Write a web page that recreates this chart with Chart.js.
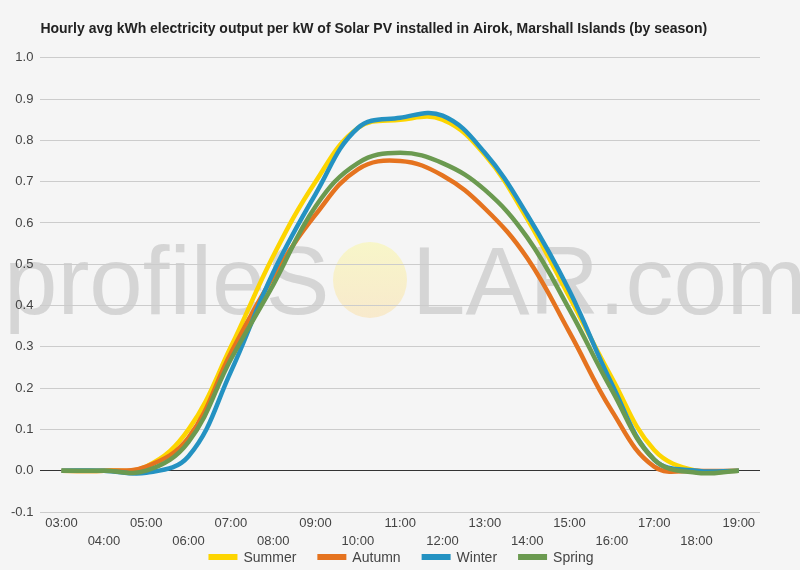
<!DOCTYPE html>
<html>
<head>
<meta charset="utf-8">
<script src="https://cdn.jsdelivr.net/npm/chart.js@4"></script>
<style>
  html, body { margin: 0; padding: 0; background: #f5f5f5; }
  #wrap { width: 800px; height: 570px; }
</style>
</head>
<body>
<div id="wrap"><canvas id="chart" width="800" height="570"></canvas></div>
<script>
// hours of the day (x axis)
const hours = ['03:00', '04:00', '05:00', '06:00', '07:00', '08:00', '09:00', '10:00', '11:00',
  '12:00', '13:00', '14:00', '15:00', '16:00', '17:00', '18:00', '19:00'];

// avg kWh per kW
const summer = [0, 0, 0.01, 0.10, 0.30, 0.52, 0.70, 0.83, 0.85, 0.85, 0.765, 0.61, 0.42, 0.225, 0.05, 0.0, 0];
const autumn = [0, 0, 0.01, 0.08, 0.285, 0.47, 0.62, 0.73, 0.75, 0.715, 0.635, 0.515, 0.335, 0.145, 0.01, 0, 0];
const winter = [0, 0, -0.005, 0.035, 0.24, 0.48, 0.67, 0.83, 0.855, 0.86, 0.77, 0.62, 0.435, 0.21, 0.027, 0, 0];
const spring = [0, 0, 0.0, 0.07, 0.27, 0.45, 0.64, 0.745, 0.77, 0.745, 0.68, 0.565, 0.39, 0.195, 0.027, -0.005, 0];

const titleText = 'Hourly avg kWh electricity output per kW of Solar PV installed in Airok, Marshall Islands (by season)';
const fontFamily = '"Liberation Sans", Arial, sans-serif';

// background watermark "profileSOLAR.com" with a sun for the O
const watermark = {
  id: 'watermark',
  beforeDraw(chart) {
    const ctx = chart.ctx;
    ctx.save();
    ctx.fillStyle = '#f5f5f5';
    ctx.fillRect(0, 0, chart.width, chart.height);
    ctx.font = '96px ' + fontFamily;
    ctx.textBaseline = 'alphabetic';
    ctx.fillStyle = 'rgba(170,170,170,0.42)';
    ctx.fillText('profileS', 4, 314);
    ctx.fillText('LAR.com', 412, 314);
    const g = ctx.createLinearGradient(0, 243, 0, 318);
    g.addColorStop(0, 'rgba(248,246,196,0.9)');
    g.addColorStop(1, 'rgba(248,232,200,0.9)');
    ctx.fillStyle = g;
    ctx.beginPath();
    ctx.ellipse(370, 280, 37, 38, 0, 0, Math.PI * 2);
    ctx.fill();
    ctx.restore();
  }
};

// legend drawn under the axis, centred on the page
const bottomLegend = {
  id: 'bottomLegend',
  afterDraw(chart) {
    const ctx = chart.ctx;
    const sets = chart.data.datasets;
    ctx.save();
    ctx.font = '14px ' + fontFamily;
    const boxW = 29, boxH = 6, gapText = 6, gapItem = 21;
    const widths = sets.map(d => boxW + gapText + ctx.measureText(d.label).width);
    const total = widths.reduce((a, b) => a + b, 0) + gapItem * (sets.length - 1);
    let x = 401 - total / 2;
    const y = 557;
    ctx.textBaseline = 'middle';
    sets.forEach((d, i) => {
      ctx.fillStyle = d.borderColor;
      ctx.fillRect(x, y - boxH / 2, boxW, boxH);
      ctx.fillStyle = '#444';
      ctx.fillText(d.label, x + boxW + gapText, y + 1);
      x += widths[i] + gapItem;
    });
    ctx.restore();
  }
};

const tickFont = { family: fontFamily, size: 13, lineHeight: '18px' };

new Chart(document.getElementById('chart'), {
  type: 'line',
  data: {
    labels: hours,
    datasets: [
      { label: 'Summer', data: summer, borderColor: '#fdd500', backgroundColor: '#fdd500', order: 4 },
      { label: 'Autumn', data: autumn, borderColor: '#e5731f', backgroundColor: '#e5731f', order: 3 },
      { label: 'Winter', data: winter, borderColor: '#2492c2', backgroundColor: '#2492c2', order: 2 },
      { label: 'Spring', data: spring, borderColor: '#6b9a50', backgroundColor: '#6b9a50', order: 1 },
    ],
  },
  options: {
    responsive: false,
    animation: false,
    layout: { padding: { left: 4, right: 40, top: 5, bottom: 18 } },
    elements: {
      line: { borderWidth: 4.5, tension: 0.4, fill: false },
      point: { radius: 0 },
    },
    scales: {
      x: {
        type: 'category',
        offset: true,
        grid: { display: false, drawTicks: false },
        border: { display: false },
        ticks: {
          autoSkip: false,
          maxRotation: 0,
          color: '#444',
          font: tickFont,
          padding: 2,
          // staggered labels in two rows
          callback: function (value, index) {
            const lbl = this.getLabelForValue(value);
            return index % 2 === 0 ? [lbl, ''] : ['', lbl];
          },
        },
      },
      y: {
        min: -0.1,
        max: 1.0,
        border: { display: false },
        grid: {
          color: ctx => (Math.abs(ctx.tick.value) < 1e-9 ? '#333' : '#cccccc'),
          lineWidth: 1,
          drawTicks: false,
        },
        ticks: {
          stepSize: 0.1,
          color: '#444',
          font: { family: fontFamily, size: 13 },
          padding: 7,
          callback: v => v.toFixed(1),
        },
      },
    },
    plugins: {
      title: {
        display: true,
        text: titleText,
        align: 'start',
        fullSize: false,
        color: '#222',
        font: { family: fontFamily, size: 14, weight: 'bold' },
        padding: { top: 16, bottom: 20 },
      },
      legend: { display: false },
      tooltip: { enabled: false },
    },
  },
  plugins: [watermark, bottomLegend],
});
</script>
</body>
</html>
